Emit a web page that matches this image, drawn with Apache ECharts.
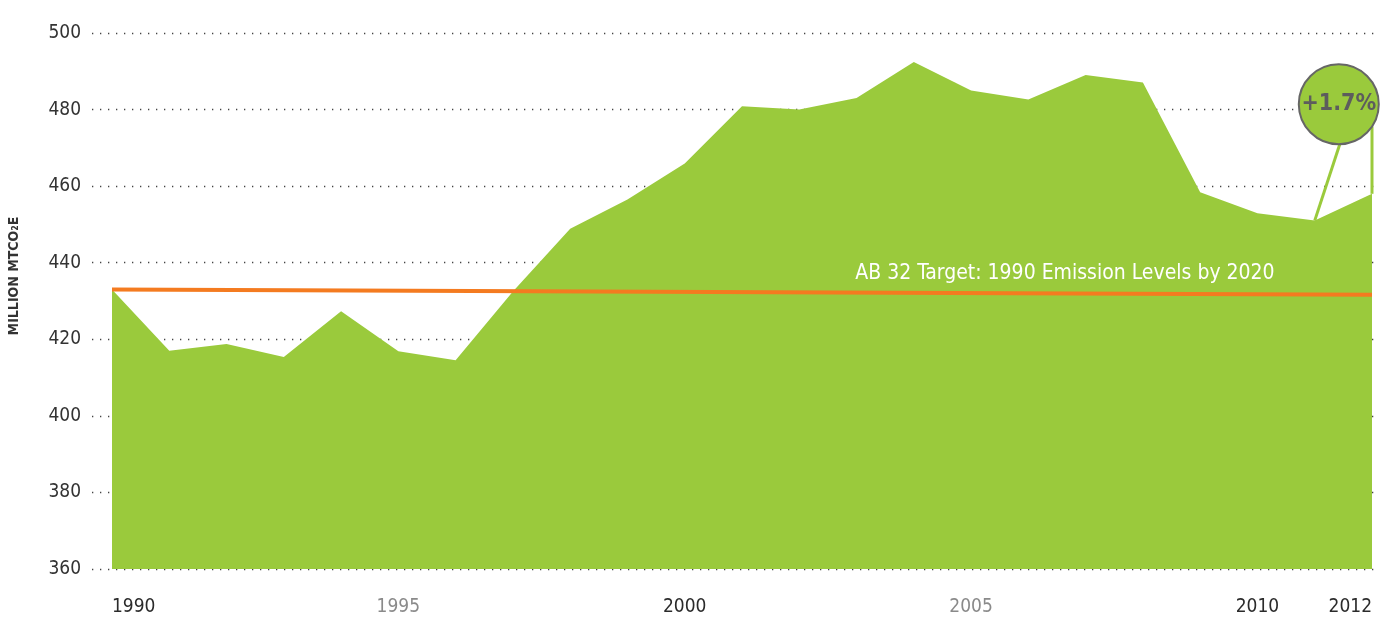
<!DOCTYPE html>
<html>
<head>
<meta charset="utf-8">
<script src="https://cdn.jsdelivr.net/npm/echarts@6/dist/echarts.min.js"></script>
<style>
  html, body { margin: 0; padding: 0; background: #fff; }
  #main { width: 1390px; height: 617px; }
</style>
</head>
<body>
<div id="main"></div>
<script>
// emissions, million MTCO2e
var years = [1990, 1991, 1992, 1993, 1994, 1995, 1996, 1997, 1998, 1999, 2000, 2001,
             2002, 2003, 2004, 2005, 2006, 2007, 2008, 2009, 2010, 2011, 2012];
var emissions = [433.0, 417.0, 418.8, 415.4, 427.3, 416.9, 414.5, 432.5, 448.9, 456.5, 465.9, 480.9,
                 480.0, 483.0, 492.4, 485.0, 482.6, 489.0, 487.1, 458.4, 452.9, 451.0, 458.0];

// AB 32 target line
var targetYears = [1990, 2012];
var targetValues = [433.0, 431.6];
var targetText = 'AB 32 Target: 1990 Emission Levels by 2020';

var labelYears = [1990, 1995, 2000, 2005, 2010, 2012];
var mutedYears = [1995, 2005];
var changeText = '+1.7%';

var yMin = 360, yMax = 500, yStep = 20;

var FONT = '"Liberation Sans Narrow", "DejaVu Sans Condensed", "Roboto", sans-serif';
var GREEN = '#9aca3c';

var dom = document.getElementById('main');
var myChart = echarts.init(dom);

var areaData = years.map(function (y, i) { return [y, emissions[i]]; });
var targetData = targetYears.map(function (y, i) { return [y, targetValues[i]]; });

var yTitle = {
    type: 'text',
    x: 14, y: 276,
    rotation: Math.PI / 2,
    style: {
        text: 'MILLION MTCO₂E',
        fontFamily: FONT, fontSize: 14, fontWeight: 'bold',
        fill: '#333', align: 'center', verticalAlign: 'middle'
    }
};

var option = {
    animation: false,
    backgroundColor: '#fff',
    grid: [
        // wide grid: only the dotted lines and y labels
        { left: 92, right: 12, top: 33, bottom: 48 },
        // data grid
        { left: 112, right: 18, top: 33, bottom: 48 }
    ],
    xAxis: [
        { gridIndex: 0, type: 'value', min: 0, max: 1, show: false },
        {
            gridIndex: 1, type: 'value', min: 1990, max: 2012, interval: 1,
            axisLine: { show: false }, axisTick: { show: false }, splitLine: { show: false },
            axisLabel: {
                margin: 29,
                alignMinLabel: 'left',
                alignMaxLabel: 'right',
                formatter: function (v) {
                    if (labelYears.indexOf(v) < 0) return '';
                    return mutedYears.indexOf(v) >= 0 ? '{m|' + v + '}' : '{d|' + v + '}';
                },
                rich: {
                    d: { fontFamily: FONT, fontSize: 19, color: '#2b2b2b' },
                    m: { fontFamily: FONT, fontSize: 19, color: '#8a8a8a' }
                }
            }
        }
    ],
    yAxis: [
        {
            gridIndex: 0, type: 'value', min: yMin, max: yMax, interval: yStep,
            axisLine: { show: false }, axisTick: { show: false },
            axisLabel: { margin: 11, fontFamily: FONT, fontSize: 19, color: '#333' },
            splitLine: { lineStyle: { color: '#444', width: 1.3, type: [1.3, 6.7] } }
        },
        {
            gridIndex: 1, type: 'value', min: yMin, max: yMax, interval: yStep,
            show: false, splitLine: { show: false }
        }
    ],
    series: [
        {
            name: 'Emissions',
            type: 'line',
            xAxisIndex: 1, yAxisIndex: 1,
            data: areaData,
            symbol: 'none',
            lineStyle: { width: 0 },
            itemStyle: { color: GREEN },
            areaStyle: { color: GREEN, opacity: 1 },
            z: 2
        },
        {
            name: 'AB 32 Target',
            type: 'line',
            xAxisIndex: 1, yAxisIndex: 1,
            data: targetData,
            symbol: 'none',
            lineStyle: { color: '#f47b20', width: 4 },
            z: 3
        }
    ],
    graphic: [yTitle]
};

myChart.setOption(option, true);

// annotations placed from data coordinates
var toPx = function (p) { return myChart.convertToPixel({ gridIndex: 1 }, p); };
var R = 40;
var c = toPx([2011.42, 481.4]);
var p2011 = toPx([2011, emissions[21]]);
var p2012 = toPx([2012, emissions[22]]);
var dx = p2012[0] - c[0];
var vTop = c[1] + Math.sqrt(Math.max(R * R - dx * dx, 0));
var lbl = toPx([2010.3, 437.2]);

myChart.setOption({
    graphic: [
        yTitle,
        {
            type: 'text', x: lbl[0], y: lbl[1], z: 10,
            style: {
                text: targetText, fontFamily: FONT, fontSize: 21,
                fill: '#fff', align: 'right', verticalAlign: 'middle'
            }
        },
        {
            type: 'line', z: 10,
            shape: { x1: c[0] + 1, y1: c[1] + R, x2: p2011[0], y2: p2011[1] },
            style: { stroke: GREEN, lineWidth: 3 }
        },
        {
            type: 'line', z: 10,
            shape: { x1: p2012[0], y1: vTop, x2: p2012[0], y2: p2012[1] },
            style: { stroke: GREEN, lineWidth: 3 }
        },
        {
            type: 'circle', z: 11,
            shape: { cx: c[0], cy: c[1], r: R },
            style: { fill: GREEN, stroke: '#666', lineWidth: 2 }
        },
        {
            type: 'text', x: c[0], y: c[1], z: 12,
            style: {
                text: changeText, fontFamily: FONT, fontSize: 23, fontWeight: 'bold',
                fill: '#5d5d5d', align: 'center', verticalAlign: 'middle'
            }
        }
    ]
});
</script>
</body>
</html>
